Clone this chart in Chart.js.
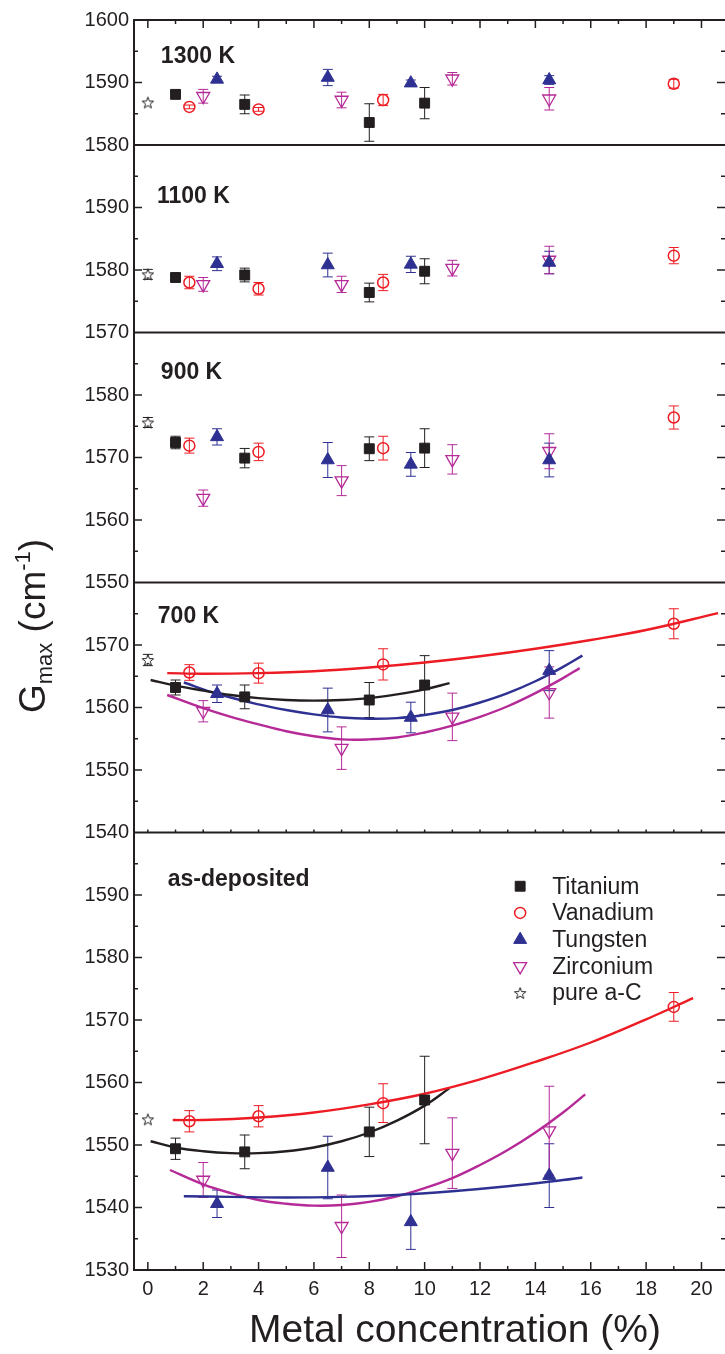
<!DOCTYPE html>
<html>
<head>
<meta charset="utf-8">
<title>G peak position vs metal concentration</title>
<script src="https://cdn.jsdelivr.net/npm/chart.js@4.4.1/dist/chart.umd.min.js"></script>
<style>
  body { margin: 0; background: #fff; }
  #wrap { width: 725px; height: 1354px; }
</style>
</head>
<body>
<div id="wrap"><canvas id="gChart" width="725" height="1354"></canvas></div>
<script>
const black = '#231f20', red = '#ed1c24', blue = '#2e3192', magenta = '#b52a97';
const FONT = "'Liberation Sans', Arial, Helvetica, sans-serif";

// metal content of the samples (%)
const tiX = [1, 3.5, 8, 10];
const vX = [1.5, 4, 8.5, 19];
const wX = [2.5, 6.5, 9.5, 14.5];
const zrX = [2, 7, 11, 14.5];
const acX = [0];

// G peak position (cm-1) with error, 1300 K anneal
const ti1300 = [1588.1, 1586.5, 1583.6, 1586.7];
const ti1300Err = [0.4, 1.5, 3.0, 2.5];
const v1300 = [1586.1, 1585.7, 1587.2, 1589.8];
const v1300Err = [0.3, 0.3, 0.9, 0.7];
const w1300 = [1590.5, 1590.8, 1589.9, 1590.4];
const w1300Err = [0.5, 1.3, 0.5, 0.7];
const zr1300 = [1587.8, 1587.2, 1590.6, 1587.4];
const zr1300Err = [1.1, 1.25, 1.0, 1.8];
const ac1300 = [1586.8];
const ac1300Err = [0];

// 1100 K
const ti1100 = [1578.8, 1579.2, 1576.4, 1579.8];
const ti1100Err = [0.5, 1.1, 1.5, 2.0];
const v1100 = [1578.0, 1577.0, 1578.0, 1582.3];
const v1100Err = [1.0, 1.0, 1.3, 1.3];
const w1100 = [1581.0, 1580.8, 1580.9, 1581.2];
const w1100Err = [1.1, 1.9, 1.3, 1.8];
const zr1100 = [1577.7, 1577.7, 1580.3, 1581.6];
const zr1100Err = [1.1, 1.3, 1.25, 2.2];
const ac1100 = [1579.3];
const ac1100Err = [0.8];

// 900 K
const ti900 = [1572.4, 1569.9, 1571.4, 1571.5];
const ti900Err = [1.0, 1.55, 1.9, 3.1];
const v900 = [1571.9, 1570.9, 1571.5, 1576.4];
const v900Err = [1.2, 1.4, 1.9, 1.85];
const w900 = [1573.3, 1569.6, 1568.9, 1569.6];
const w900Err = [1.3, 2.8, 1.9, 2.7];
const zr900 = [1563.5, 1566.3, 1569.7, 1571.0];
const zr900Err = [1.3, 2.4, 2.35, 2.8];
const ac900 = [1575.6];
const ac900Err = [0.8];

// 700 K
const ti700 = [1563.2, 1561.7, 1561.2, 1563.6];
const ti700Err = [1.2, 1.9, 2.8, 4.7];
const v700 = [1565.6, 1565.5, 1566.9, 1573.4];
const v700Err = [1.25, 1.6, 2.5, 2.4];
const w700 = [1562.2, 1559.6, 1558.4, 1565.9];
const w700Err = [1.4, 3.5, 2.45, 3.2];
const zr700 = [1559.4, 1553.5, 1558.5, 1562.4];
const zr700Err = [1.7, 3.4, 3.8, 4.1];
const ac700 = [1567.6];
const ac700Err = [0.9];

// as-deposited
const tiDep = [1549.4, 1548.9, 1552.1, 1557.2];
const tiDepErr = [1.7, 2.7, 3.95, 7.0];
const vDep = [1553.8, 1554.6, 1556.7, 1572.1];
const vDepErr = [1.7, 1.7, 3.1, 2.3];
const wDep = [1540.6, 1546.4, 1537.7, 1545.1];
const wDepErr = [2.2, 5.0, 4.4, 5.1];
const zrDep = [1544.4, 1537.0, 1548.7, 1552.3];
const zrDepErr = [2.8, 5.0, 5.65, 7.1];
const acDep = [1554.1];
const acDepErr = [0];

// quadratic fit curves, 700 K
const vFit700X = [0.7, 2, 4, 6, 8, 10, 12, 14, 16, 18, 20.6];
const vFit700 = [1565.5, 1565.4, 1565.5, 1565.8, 1566.4, 1567.2, 1568.2, 1569.4, 1570.8, 1572.4, 1575.1];
const tiFit700X = [0.1, 1, 2, 3, 4, 5, 6, 7, 8, 9, 10, 10.9];
const tiFit700 = [1564.4, 1563.5, 1562.7, 1562.0, 1561.5, 1561.2, 1561.1, 1561.2, 1561.5, 1562.1, 1562.9, 1563.9];
const wFit700X = [1.3, 2.5, 4, 5, 6, 7, 8, 9, 10, 11, 12, 13, 14, 15, 15.7];
const wFit700 = [1564.0, 1562.2, 1560.5, 1559.6, 1558.9, 1558.4, 1558.2, 1558.3, 1558.8, 1559.6, 1560.8, 1562.3, 1564.2, 1566.5, 1568.3];
const zrFit700X = [0.7, 2, 3, 4, 5, 6, 7, 8, 9, 10, 11, 12, 13, 14, 15, 15.6];
const zrFit700 = [1562.0, 1559.9, 1558.5, 1557.3, 1556.2, 1555.4, 1554.9, 1554.9, 1555.2, 1556.0, 1557.1, 1558.5, 1560.2, 1562.3, 1564.7, 1566.3];

// quadratic fit curves, as-deposited
const vFitDepX = [0.9, 2, 4, 6, 8, 10, 12, 14, 16, 18, 19.7];
const vFitDep = [1554.0, 1554.0, 1554.4, 1555.2, 1556.5, 1558.2, 1560.5, 1563.3, 1566.4, 1570.1, 1573.5];
const tiFitDepX = [0.1, 1, 2, 3, 4, 5, 6, 7, 8, 9, 10, 10.9];
const tiFitDep = [1550.6, 1549.6, 1549.0, 1548.7, 1548.7, 1549.0, 1549.6, 1550.6, 1552.0, 1553.9, 1556.3, 1559.1];
const wFitDepX = [1.3, 3, 5, 7, 9, 11, 13, 15, 15.7];
const wFitDep = [1541.8, 1541.7, 1541.6, 1541.7, 1542.0, 1542.6, 1543.4, 1544.4, 1544.8];
const zrFitDepX = [0.8, 2, 3, 4, 5, 6, 7, 8, 9, 10, 11, 12, 13, 14, 15, 15.8];
const zrFitDep = [1546.0, 1543.7, 1542.3, 1541.2, 1540.6, 1540.3, 1540.4, 1540.9, 1541.8, 1543.1, 1544.7, 1546.8, 1549.2, 1552.0, 1555.2, 1558.1];

// stacked panels, listed bottom to top (later boxes get placed higher)
const panels = [
  { id: 'yDep', min: 1530, max: 1600, name: 'as-deposited', lx: 0.72, ly: 1591.4 },
  { id: 'y700', min: 1540, max: 1580, name: '700 K', lx: 0.36, ly: 1573.5 },
  { id: 'y900', min: 1550, max: 1590, name: '900 K', lx: 0.47, ly: 1582.6 },
  { id: 'y1100', min: 1570, max: 1600, name: '1100 K', lx: 0.33, ly: 1590.7 },
  { id: 'y1300', min: 1580, max: 1600, name: '1300 K', lx: 0.47, ly: 1593.1 }
];

const measured = {
  y1300: { ti: [ti1300, ti1300Err], v: [v1300, v1300Err], w: [w1300, w1300Err], zr: [zr1300, zr1300Err], ac: [ac1300, ac1300Err] },
  y1100: { ti: [ti1100, ti1100Err], v: [v1100, v1100Err], w: [w1100, w1100Err], zr: [zr1100, zr1100Err], ac: [ac1100, ac1100Err] },
  y900: { ti: [ti900, ti900Err], v: [v900, v900Err], w: [w900, w900Err], zr: [zr900, zr900Err], ac: [ac900, ac900Err] },
  y700: { ti: [ti700, ti700Err], v: [v700, v700Err], w: [w700, w700Err], zr: [zr700, zr700Err], ac: [ac700, ac700Err] },
  yDep: { ti: [tiDep, tiDepErr], v: [vDep, vDepErr], w: [wDep, wDepErr], zr: [zrDep, zrDepErr], ac: [acDep, acDepErr] }
};

const fits = [
  { axis: 'y700', color: red, x: vFit700X, y: vFit700 },
  { axis: 'y700', color: black, x: tiFit700X, y: tiFit700 },
  { axis: 'y700', color: blue, x: wFit700X, y: wFit700 },
  { axis: 'y700', color: magenta, x: zrFit700X, y: zrFit700 },
  { axis: 'yDep', color: red, x: vFitDepX, y: vFitDep },
  { axis: 'yDep', color: black, x: tiFitDepX, y: tiFitDep },
  { axis: 'yDep', color: blue, x: wFitDepX, y: wFitDep },
  { axis: 'yDep', color: magenta, x: zrFitDepX, y: zrFitDep }
];

// open five-point star used for the pure carbon film
function starCanvas(color) {
  const c = document.createElement('canvas');
  c.width = 14; c.height = 14;
  const g = c.getContext('2d');
  g.beginPath();
  for (let k = 0; k < 10; k++) {
    const r = k % 2 ? 2.5 : 6;
    const a = -Math.PI / 2 + k * Math.PI / 5;
    const px = 7 + r * Math.cos(a), py = 7.6 + r * Math.sin(a);
    if (k) g.lineTo(px, py); else g.moveTo(px, py);
  }
  g.closePath();
  g.fillStyle = '#fff';
  g.fill();
  g.strokeStyle = color;
  g.lineWidth = 1;
  g.stroke();
  return c;
}
const starImg = starCanvas(black);

const metals = [
  { key: 'ti', label: 'Titanium', x: tiX, color: black, style: 'rect', radius: 7, filled: true, width: 1 },
  { key: 'v', label: 'Vanadium', x: vX, color: red, style: 'circle', radius: 5.5, filled: false, width: 1.5 },
  { key: 'w', label: 'Tungsten', x: wX, color: blue, style: 'triangle', radius: 7.5, filled: true, width: 1 },
  { key: 'zr', label: 'Zirconium', x: zrX, color: magenta, style: 'triangle', rotation: 180, radius: 7.5, filled: false, width: 1.3 },
  { key: 'ac', label: 'pure a-C', x: acX, color: black, style: starImg, radius: 6, filled: false, width: 1 }
];

const datasets = [];
fits.forEach(f => {
  datasets.push({
    type: 'line',
    yAxisID: f.axis,
    data: f.x.map((x, i) => ({ x: x, y: f.y[i] })),
    borderColor: f.color,
    borderWidth: 2.4,
    pointRadius: 0,
    tension: 0.4,
    fill: false,
    order: 2
  });
});
panels.forEach(p => {
  metals.forEach(m => {
    const vals = measured[p.id][m.key][0];
    const errs = measured[p.id][m.key][1];
    datasets.push({
      type: 'scatter',
      label: m.label,
      yAxisID: p.id,
      data: m.x.map((x, i) => ({ x: x, y: vals[i] })),
      errors: errs,
      pointStyle: m.style,
      pointRadius: m.radius,
      pointHoverRadius: m.radius,
      pointRotation: m.rotation || 0,
      pointBackgroundColor: m.filled ? m.color : 'rgba(0,0,0,0)',
      pointBorderColor: m.color,
      pointBorderWidth: m.width,
      borderColor: m.color,
      showLine: false,
      order: 1
    });
  });
});

// error bars with caps, drawn under the markers
const errorBars = {
  id: 'errorBars',
  beforeDatasetsDraw(chart) {
    const ctx = chart.ctx;
    chart.data.datasets.forEach((ds, i) => {
      if (!ds.errors) return;
      const meta = chart.getDatasetMeta(i);
      const ys = chart.scales[ds.yAxisID];
      ctx.save();
      ctx.strokeStyle = ds.pointBorderColor;
      ctx.lineWidth = 1;
      ds.data.forEach((pt, j) => {
        const e = ds.errors[j];
        if (!e) return;
        const x = meta.data[j].x;
        const top = ys.getPixelForValue(pt.y + e);
        const bot = ys.getPixelForValue(pt.y - e);
        ctx.beginPath();
        ctx.moveTo(x, top); ctx.lineTo(x, bot);
        ctx.moveTo(x - 5, top); ctx.lineTo(x + 5, top);
        ctx.moveTo(x - 5, bot); ctx.lineTo(x + 5, bot);
        ctx.stroke();
      });
      ctx.restore();
    });
  }
};

function seg(ctx, x1, y1, x2, y2) {
  ctx.beginPath();
  ctx.moveTo(x1, y1);
  ctx.lineTo(x2, y2);
  ctx.stroke();
}

// frame, inward ticks, panel names, legend and axis titles
const decorations = {
  id: 'decorations',
  afterDraw(chart) {
    const ctx = chart.ctx, a = chart.chartArea, sc = chart.scales, xs = sc.x;
    ctx.save();
    ctx.strokeStyle = black;
    ctx.lineWidth = 2;
    // right edge of the frame runs off the canvas, so only three sides
    seg(ctx, a.left, a.top - 1, a.left, a.bottom + 1);
    seg(ctx, a.left, a.top, a.right, a.top);
    seg(ctx, a.left, a.bottom, a.right, a.bottom);
    panels.forEach(p => {
      const s = sc[p.id];
      if (s.top > a.top + 1) seg(ctx, a.left, s.top, a.right, s.top);
    });

    ctx.lineWidth = 1.5;
    panels.forEach(p => {
      const s = sc[p.id];
      s.ticks.forEach(t => {
        if (t.value <= p.min || t.value >= p.max) return;
        const y = s.getPixelForValue(t.value);
        const len = t.value % 10 === 0 ? 8 : 4;
        seg(ctx, a.left, y, a.left + len, y);
        seg(ctx, a.right, y, a.right - len, y);
      });
    });
    const sep = sc.yDep.top;
    xs.ticks.forEach(t => {
      if (!Number.isInteger(t.value)) return;
      const x = xs.getPixelForValue(t.value);
      const len = t.value % 2 === 0 ? 8 : 4;
      seg(ctx, x, a.bottom, x, a.bottom - len);
      seg(ctx, x, a.top, x, a.top + len);
      seg(ctx, x, sep, x, sep - 3);
    });

    ctx.fillStyle = black;
    ctx.textAlign = 'left';
    ctx.textBaseline = 'alphabetic';
    ctx.font = 'bold 23px ' + FONT;
    panels.forEach(p => {
      ctx.fillText(p.name, xs.getPixelForValue(p.lx), sc[p.id].getPixelForValue(p.ly));
    });

    // legend in the as-deposited panel
    const lx = xs.getPixelForValue(13.45);
    const ly = sc.yDep.getPixelForValue(1591.4);
    ctx.font = '23px ' + FONT;
    ctx.textBaseline = 'middle';
    metals.forEach((m, i) => {
      const y = ly + i * 26.7;
      ctx.save();
      ctx.fillStyle = m.filled ? m.color : 'rgba(0,0,0,0)';
      ctx.strokeStyle = m.color;
      ctx.lineWidth = m.width;
      Chart.helpers.drawPoint(ctx, { pointStyle: m.style, rotation: m.rotation || 0, radius: m.radius, borderWidth: m.width }, lx, y);
      ctx.restore();
      ctx.fillStyle = black;
      ctx.fillText(m.label, lx + 32, y + 1);
    });

    // axis titles
    ctx.textBaseline = 'alphabetic';
    ctx.textAlign = 'center';
    ctx.font = '39px ' + FONT;
    ctx.fillText('Metal concentration (%)', 455, 1342);

    ctx.translate(45, 713);
    ctx.rotate(-Math.PI / 2);
    ctx.textAlign = 'left';
    let cx = 0;
    const parts = [['G', 37, 0], ['max', 22, 7], [' (cm', 37, 0], ['-1', 22, -15], [')', 37, 0]];
    parts.forEach(pt => {
      ctx.font = pt[1] + 'px ' + FONT;
      ctx.fillText(pt[0], cx, pt[2]);
      cx += ctx.measureText(pt[0]).width;
    });
    ctx.restore();
  }
};

const scales = {
  x: {
    type: 'linear',
    min: -0.5,
    max: 20.85,
    grid: { display: false, drawTicks: false },
    border: { display: false },
    ticks: {
      stepSize: 1,
      includeBounds: false,
      autoSkip: false,
      maxRotation: 0,
      padding: 7,
      color: black,
      font: { family: FONT, size: 20 },
      callback: v => (Number.isInteger(v) && v % 2 === 0) ? String(v) : ''
    },
    afterFit: s => {
      s.height = 84;
      s.paddingLeft = 0;
      s.paddingRight = 0;
    }
  }
};
panels.forEach(p => {
  scales[p.id] = {
    type: 'linear',
    position: 'left',
    stack: 'panels',
    stackWeight: p.max - p.min,
    offset: false,
    min: p.min,
    max: p.max,
    grid: { display: false, drawTicks: false },
    border: { display: false },
    ticks: {
      stepSize: 5,
      includeBounds: false,
      autoSkip: false,
      padding: 5,
      color: black,
      font: { family: FONT, size: 20 },
      callback: v => (v % 10 === 0 && (v !== p.max || p.id === 'y1300')) ? String(v) : ''
    },
    afterFit: s => {
      s.width = 134;
      s.paddingTop = 0;
      s.paddingBottom = 0;
    }
  };
});

new Chart(document.getElementById('gChart'), {
  type: 'scatter',
  data: { datasets: datasets },
  options: {
    responsive: false,
    animation: false,
    events: [],
    layout: { autoPadding: false, padding: { left: 0, right: 0, top: 20, bottom: 0 } },
    plugins: { legend: { display: false }, tooltip: { enabled: false } },
    scales: scales
  },
  plugins: [errorBars, decorations]
});
</script>
</body>
</html>
